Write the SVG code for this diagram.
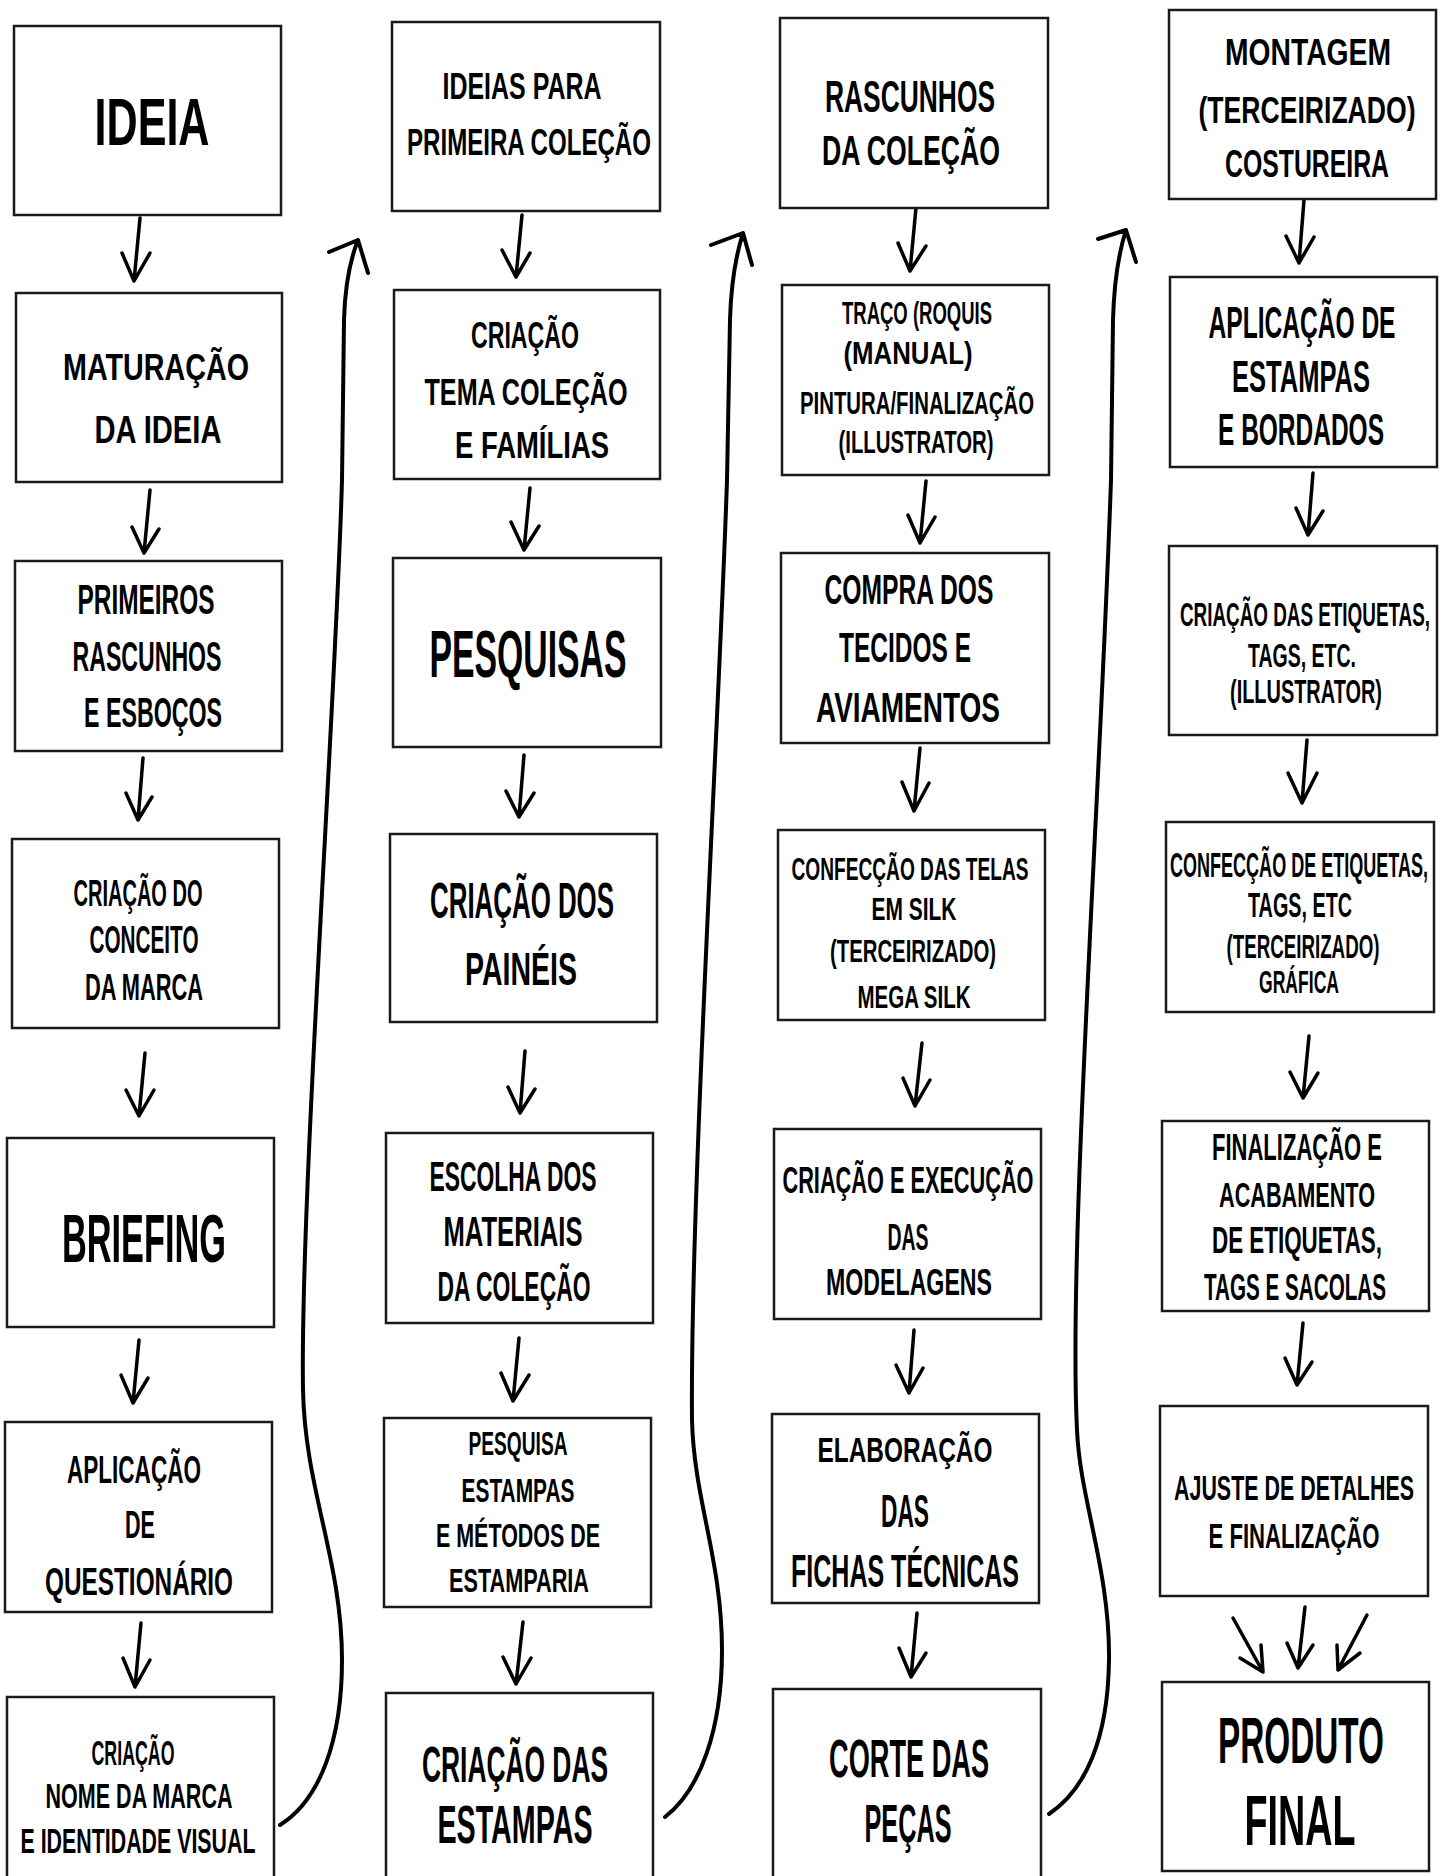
<svg xmlns="http://www.w3.org/2000/svg" width="1448" height="1876" viewBox="0 0 1448 1876">
<style>
.box{fill:#fff;stroke:#1a1a1a;stroke-width:2.5}
.t{font-family:"Liberation Sans",Arial,sans-serif;font-weight:bold;text-anchor:middle;fill:#000}
.a{fill:none;stroke:#000;stroke-width:3.5;stroke-linecap:round;stroke-linejoin:round}
.k{fill:none;stroke:#000;stroke-width:4;stroke-linecap:round;stroke-linejoin:round}
</style>
<rect x="0" y="0" width="1448" height="1876" fill="#fff"/>
<g id="connectors">
<path class="a" d="M140,218 L134,281 M122,253 L134,281 L150,253"/>
<path class="a" d="M150,490 L144,553 M132,527 L144,553 L159,529"/>
<path class="a" d="M143,758 L138,820 M126,793 L138,820 L152,797"/>
<path class="a" d="M145,1053 L139,1116 M126,1090 L139,1116 L154,1090"/>
<path class="a" d="M139,1340 L133,1403 M121,1375 L133,1403 L148,1378"/>
<path class="a" d="M141,1623 L135,1687 M123,1658 L135,1687 L150,1660"/>
<path class="a" d="M522,215 L516,277 M502,250 L516,277 L530,253"/>
<path class="a" d="M530,488 L524,550 M511,522 L524,550 L539,526"/>
<path class="a" d="M524,755 L519,817 M506,791 L519,817 L534,793"/>
<path class="a" d="M525,1051 L520,1113 M508,1087 L520,1113 L535,1089"/>
<path class="a" d="M519,1338 L513,1401 M501,1373 L513,1401 L529,1375"/>
<path class="a" d="M523,1622 L516,1684 M503,1657 L516,1684 L531,1658"/>
<path class="a" d="M916,208 L910,271 M898,243 L910,271 L926,246"/>
<path class="a" d="M926,481 L920,543 M908,515 L920,543 L935,517"/>
<path class="a" d="M920,748 L914,811 M902,782 L914,811 L929,783"/>
<path class="a" d="M922,1043 L915,1106 M903,1078 L915,1106 L930,1080"/>
<path class="a" d="M914,1330 L909,1393 M896,1365 L909,1393 L923,1368"/>
<path class="a" d="M917,1613 L911,1677 M899,1648 L911,1677 L926,1653"/>
<path class="a" d="M1304,200 L1299,263 M1286,236 L1299,263 L1314,237"/>
<path class="a" d="M1313,473 L1308,535 M1296,508 L1308,535 L1323,511"/>
<path class="a" d="M1307,740 L1302,803 M1288,773 L1302,803 L1317,773"/>
<path class="a" d="M1309,1036 L1303,1098 M1290,1072 L1303,1098 L1318,1073"/>
<path class="a" d="M1303,1323 L1297,1385 M1285,1358 L1297,1385 L1312,1362"/>
<path class="a" d="M1233,1618 L1263,1672 M1240,1658 L1263,1672 L1261,1645"/>
<path class="a" d="M1305,1607 L1298,1668 M1287,1643 L1298,1668 L1313,1645"/>
<path class="a" d="M1367,1615 L1338,1670 M1337,1645 L1338,1670 L1360,1653"/>
<path class="k" d="M280,1825 C320,1800 342,1740 342,1660 C342,1560 305,1490 303,1390 C300,1200 336,700 342,480 L344,320 C345,285 350,260 358,240 M329,252 L358,240 L368,273"/>
<path class="k" d="M665,1817 C700,1790 722,1730 722,1650 C722,1560 694,1500 692,1420 C690,1200 720,700 727,480 L730,320 C731,285 736,255 743,233 M711,245 L743,233 L752,265"/>
<path class="k" d="M1049,1814 C1085,1790 1108,1740 1109,1660 C1110,1570 1080,1500 1077,1430 C1068,1250 1100,800 1111,480 L1113,320 C1114,285 1118,255 1126,230 M1098,239 L1126,230 L1136,262"/>
</g>
<g id="n-ideia"><rect class="box" x="14" y="26" width="267" height="189"/>
<text class="t" font-size="43.1" transform="translate(152,145) scale(1,1.555)" textLength="115" lengthAdjust="spacingAndGlyphs">IDEIA</text></g>
<g id="n-maturacao"><rect class="box" x="16" y="293" width="266" height="189"/>
<text class="t" font-size="28.4" transform="translate(156,380) scale(1,1.33)" textLength="186" lengthAdjust="spacingAndGlyphs">MATURAÇÃO</text>
<text class="t" font-size="28.9" transform="translate(158,443) scale(1,1.35)" textLength="127" lengthAdjust="spacingAndGlyphs">DA IDEIA</text></g>
<g id="n-primeiros"><rect class="box" x="15" y="561" width="267" height="190"/>
<text class="t" font-size="24.4" transform="translate(146,614) scale(1,1.72)" textLength="137" lengthAdjust="spacingAndGlyphs">PRIMEIROS</text>
<text class="t" font-size="23.1" transform="translate(147,671) scale(1,1.81)" textLength="149" lengthAdjust="spacingAndGlyphs">RASCUNHOS</text>
<text class="t" font-size="23.2" transform="translate(153,727) scale(1,1.81)" textLength="138" lengthAdjust="spacingAndGlyphs">E ESBOÇOS</text></g>
<g id="n-conceito"><rect class="box" x="12" y="839" width="267" height="189"/>
<text class="t" font-size="20" transform="translate(138,906) scale(1,1.89)" textLength="129" lengthAdjust="spacingAndGlyphs">CRIAÇÃO DO</text>
<text class="t" font-size="20.7" transform="translate(144,953) scale(1,1.83)" textLength="109" lengthAdjust="spacingAndGlyphs">CONCEITO</text>
<text class="t" font-size="21.7" transform="translate(144,1000) scale(1,1.74)" textLength="118" lengthAdjust="spacingAndGlyphs">DA MARCA</text></g>
<g id="n-briefing"><rect class="box" x="7" y="1138" width="267" height="189"/>
<text class="t" font-size="34.3" transform="translate(144,1262) scale(1,2)" textLength="164" lengthAdjust="spacingAndGlyphs">BRIEFING</text></g>
<g id="n-questionario"><rect class="box" x="5" y="1422" width="267" height="190"/>
<text class="t" font-size="22.5" transform="translate(134,1483) scale(1,1.74)" textLength="134" lengthAdjust="spacingAndGlyphs">APLICAÇÃO</text>
<text class="t" font-size="21.6" transform="translate(140,1538) scale(1,1.81)" textLength="30" lengthAdjust="spacingAndGlyphs">DE</text>
<text class="t" font-size="23.7" transform="translate(139,1595) scale(1,1.65)" textLength="188" lengthAdjust="spacingAndGlyphs">QUESTIONÁRIO</text></g>
<g id="n-nome"><rect class="box" x="7" y="1697" width="267" height="200"/>
<text class="t" font-size="17.8" transform="translate(133,1765) scale(1,1.96)" textLength="83" lengthAdjust="spacingAndGlyphs">CRIAÇÃO</text>
<text class="t" font-size="21" transform="translate(139,1808) scale(1,1.66)" textLength="187" lengthAdjust="spacingAndGlyphs">NOME DA MARCA</text>
<text class="t" font-size="21.4" transform="translate(138,1853) scale(1,1.63)" textLength="235" lengthAdjust="spacingAndGlyphs">E IDENTIDADE VISUAL</text></g>
<g id="n-ideias-colecao"><rect class="box" x="392" y="22" width="268" height="189"/>
<text class="t" font-size="24.7" transform="translate(522,99) scale(1,1.47)" textLength="159" lengthAdjust="spacingAndGlyphs">IDEIAS PARA</text>
<text class="t" font-size="24" transform="translate(529,155) scale(1,1.57)" textLength="244" lengthAdjust="spacingAndGlyphs">PRIMEIRA COLEÇÃO</text></g>
<g id="n-tema"><rect class="box" x="394" y="290" width="266" height="189"/>
<text class="t" font-size="23.1" transform="translate(525,348) scale(1,1.63)" textLength="108" lengthAdjust="spacingAndGlyphs">CRIAÇÃO</text>
<text class="t" font-size="25" transform="translate(526,405) scale(1,1.51)" textLength="203" lengthAdjust="spacingAndGlyphs">TEMA COLEÇÃO</text>
<text class="t" font-size="27.2" transform="translate(532,458) scale(1,1.39)" textLength="154" lengthAdjust="spacingAndGlyphs">E FAMÍLIAS</text></g>
<g id="n-pesquisas"><rect class="box" x="393" y="558" width="268" height="189"/>
<text class="t" font-size="33.8" transform="translate(528,677) scale(1,1.98)" textLength="197" lengthAdjust="spacingAndGlyphs">PESQUISAS</text></g>
<g id="n-paineis"><rect class="box" x="390" y="834" width="267" height="188"/>
<text class="t" font-size="25.9" transform="translate(522,918) scale(1,1.94)" textLength="184" lengthAdjust="spacingAndGlyphs">CRIAÇÃO DOS</text>
<text class="t" font-size="28" transform="translate(521,985) scale(1,1.65)" textLength="112" lengthAdjust="spacingAndGlyphs">PAINÉIS</text></g>
<g id="n-materiais"><rect class="box" x="386" y="1133" width="267" height="190"/>
<text class="t" font-size="22.8" transform="translate(513,1191) scale(1,1.84)" textLength="167" lengthAdjust="spacingAndGlyphs">ESCOLHA DOS</text>
<text class="t" font-size="25.3" transform="translate(513,1246) scale(1,1.66)" textLength="139" lengthAdjust="spacingAndGlyphs">MATERIAIS</text>
<text class="t" font-size="22.8" transform="translate(514,1301) scale(1,1.84)" textLength="153" lengthAdjust="spacingAndGlyphs">DA COLEÇÃO</text></g>
<g id="n-pesquisa-estampas"><rect class="box" x="384" y="1418" width="267" height="189"/>
<text class="t" font-size="19.2" transform="translate(518,1455) scale(1,1.75)" textLength="99" lengthAdjust="spacingAndGlyphs">PESQUISA</text>
<text class="t" font-size="20.3" transform="translate(518,1502) scale(1,1.65)" textLength="113" lengthAdjust="spacingAndGlyphs">ESTAMPAS</text>
<text class="t" font-size="21.4" transform="translate(518,1547) scale(1,1.57)" textLength="164" lengthAdjust="spacingAndGlyphs">E MÉTODOS DE</text>
<text class="t" font-size="21.2" transform="translate(519,1592) scale(1,1.58)" textLength="140" lengthAdjust="spacingAndGlyphs">ESTAMPARIA</text></g>
<g id="n-criacao-estampas"><rect class="box" x="386" y="1693" width="267" height="200"/>
<text class="t" font-size="26.4" transform="translate(515,1782) scale(1,1.9)" textLength="186" lengthAdjust="spacingAndGlyphs">CRIAÇÃO DAS</text>
<text class="t" font-size="27.9" transform="translate(515,1843) scale(1,1.9)" textLength="155" lengthAdjust="spacingAndGlyphs">ESTAMPAS</text></g>
<g id="n-rascunhos-colecao"><rect class="box" x="780" y="18" width="268" height="190"/>
<text class="t" font-size="26.4" transform="translate(910,112) scale(1,1.69)" textLength="170" lengthAdjust="spacingAndGlyphs">RASCUNHOS</text>
<text class="t" font-size="26.5" transform="translate(911,165) scale(1,1.58)" textLength="178" lengthAdjust="spacingAndGlyphs">DA COLEÇÃO</text></g>
<g id="n-traco"><rect class="box" x="782" y="285" width="267" height="190"/>
<text class="t" font-size="18.5" transform="translate(917,324) scale(1,1.66)" textLength="150" lengthAdjust="spacingAndGlyphs">TRAÇO (ROQUIS</text>
<text class="t" font-size="25.8" transform="translate(908,364) scale(1,1.19)" textLength="129" lengthAdjust="spacingAndGlyphs">(MANUAL)</text>
<text class="t" font-size="20.35" transform="translate(917,414) scale(1,1.51)" textLength="234" lengthAdjust="spacingAndGlyphs">PINTURA/FINALIZAÇÃO</text>
<text class="t" font-size="20.1" transform="translate(916,453) scale(1,1.53)" textLength="155" lengthAdjust="spacingAndGlyphs">(ILLUSTRATOR)</text></g>
<g id="n-compra"><rect class="box" x="781" y="553" width="268" height="190"/>
<text class="t" font-size="24.5" transform="translate(909,604) scale(1,1.71)" textLength="169" lengthAdjust="spacingAndGlyphs">COMPRA DOS</text>
<text class="t" font-size="24.5" transform="translate(905,662) scale(1,1.71)" textLength="132" lengthAdjust="spacingAndGlyphs">TECIDOS E</text>
<text class="t" font-size="27.6" transform="translate(908,722) scale(1,1.52)" textLength="184" lengthAdjust="spacingAndGlyphs">AVIAMENTOS</text></g>
<g id="n-telas"><rect class="box" x="778" y="830" width="267" height="190"/>
<text class="t" font-size="19.1" transform="translate(910,880) scale(1,1.68)" textLength="237" lengthAdjust="spacingAndGlyphs">CONFECÇÃO DAS TELAS</text>
<text class="t" font-size="21" transform="translate(914,920) scale(1,1.53)" textLength="85" lengthAdjust="spacingAndGlyphs">EM SILK</text>
<text class="t" font-size="20.3" transform="translate(913,962) scale(1,1.58)" textLength="166" lengthAdjust="spacingAndGlyphs">(TERCEIRIZADO)</text>
<text class="t" font-size="20.3" transform="translate(914,1008) scale(1,1.58)" textLength="113" lengthAdjust="spacingAndGlyphs">MEGA SILK</text></g>
<g id="n-modelagens"><rect class="box" x="774" y="1129" width="267" height="190"/>
<text class="t" font-size="21.7" transform="translate(908,1193) scale(1,1.74)" textLength="251" lengthAdjust="spacingAndGlyphs">CRIAÇÃO E EXECUÇÃO</text>
<text class="t" font-size="19.4" transform="translate(908,1250) scale(1,1.94)" textLength="41" lengthAdjust="spacingAndGlyphs">DAS</text>
<text class="t" font-size="23.2" transform="translate(909,1295) scale(1,1.63)" textLength="166" lengthAdjust="spacingAndGlyphs">MODELAGENS</text></g>
<g id="n-fichas"><rect class="box" x="772" y="1414" width="267" height="189"/>
<text class="t" font-size="24.5" transform="translate(905,1462) scale(1,1.43)" textLength="175" lengthAdjust="spacingAndGlyphs">ELABORAÇÃO</text>
<text class="t" font-size="22.7" transform="translate(905,1527) scale(1,2.03)" textLength="48" lengthAdjust="spacingAndGlyphs">DAS</text>
<text class="t" font-size="25" transform="translate(905,1587) scale(1,1.84)" textLength="228" lengthAdjust="spacingAndGlyphs">FICHAS TÉCNICAS</text></g>
<g id="n-corte"><rect class="box" x="773" y="1689" width="268" height="200"/>
<text class="t" font-size="27.2" transform="translate(909,1777) scale(1,1.95)" textLength="160" lengthAdjust="spacingAndGlyphs">CORTE DAS</text>
<text class="t" font-size="25.3" transform="translate(908,1842) scale(1,2.1)" textLength="87" lengthAdjust="spacingAndGlyphs">PEÇAS</text></g>
<g id="n-montagem"><rect class="box" x="1169" y="10" width="267" height="189"/>
<text class="t" font-size="27.9" transform="translate(1308,65) scale(1,1.3)" textLength="166" lengthAdjust="spacingAndGlyphs">MONTAGEM</text>
<text class="t" font-size="26.6" transform="translate(1307,123) scale(1,1.42)" textLength="217" lengthAdjust="spacingAndGlyphs">(TERCEIRIZADO)</text>
<text class="t" font-size="24.8" transform="translate(1307,177) scale(1,1.58)" textLength="164" lengthAdjust="spacingAndGlyphs">COSTUREIRA</text></g>
<g id="n-aplicacao-estampas"><rect class="box" x="1170" y="277" width="267" height="190"/>
<text class="t" font-size="24.6" transform="translate(1302,338) scale(1,1.82)" textLength="187" lengthAdjust="spacingAndGlyphs">APLICAÇÃO DE</text>
<text class="t" font-size="24.8" transform="translate(1301,392) scale(1,1.8)" textLength="138" lengthAdjust="spacingAndGlyphs">ESTAMPAS</text>
<text class="t" font-size="24.5" transform="translate(1301,445) scale(1,1.82)" textLength="166" lengthAdjust="spacingAndGlyphs">E BORDADOS</text></g>
<g id="n-etiquetas"><rect class="box" x="1169" y="546" width="268" height="189"/>
<text class="t" font-size="18.75" transform="translate(1305,626) scale(1,1.79)" textLength="250" lengthAdjust="spacingAndGlyphs">CRIAÇÃO DAS ETIQUETAS,</text>
<text class="t" font-size="19.2" transform="translate(1302,667) scale(1,1.74)" textLength="108" lengthAdjust="spacingAndGlyphs">TAGS, ETC.</text>
<text class="t" font-size="19.7" transform="translate(1306,703) scale(1,1.7)" textLength="152" lengthAdjust="spacingAndGlyphs">(ILLUSTRATOR)</text></g>
<g id="n-confeccao-etiquetas"><rect class="box" x="1166" y="822" width="268" height="190"/>
<text class="t" font-size="17.9" transform="translate(1299,877) scale(1,1.95)" textLength="258" lengthAdjust="spacingAndGlyphs">CONFECÇÃO DE ETIQUETAS,</text>
<text class="t" font-size="19.5" transform="translate(1300,917) scale(1,1.79)" textLength="104" lengthAdjust="spacingAndGlyphs">TAGS, ETC</text>
<text class="t" font-size="18.7" transform="translate(1303,958) scale(1,1.79)" textLength="153" lengthAdjust="spacingAndGlyphs">(TERCEIRIZADO)</text>
<text class="t" font-size="17.6" transform="translate(1299,993) scale(1,1.83)" textLength="80" lengthAdjust="spacingAndGlyphs">GRÁFICA</text></g>
<g id="n-finalizacao"><rect class="box" x="1162" y="1121" width="267" height="190"/>
<text class="t" font-size="21.5" transform="translate(1297,1160) scale(1,1.69)" textLength="170" lengthAdjust="spacingAndGlyphs">FINALIZAÇÃO E</text>
<text class="t" font-size="21.6" transform="translate(1297,1207) scale(1,1.62)" textLength="156" lengthAdjust="spacingAndGlyphs">ACABAMENTO</text>
<text class="t" font-size="22.2" transform="translate(1297,1253) scale(1,1.64)" textLength="170" lengthAdjust="spacingAndGlyphs">DE ETIQUETAS,</text>
<text class="t" font-size="20.5" transform="translate(1295,1300) scale(1,1.84)" textLength="182" lengthAdjust="spacingAndGlyphs">TAGS E SACOLAS</text></g>
<g id="n-ajuste"><rect class="box" x="1160" y="1406" width="268" height="190"/>
<text class="t" font-size="21.3" transform="translate(1294,1500) scale(1,1.64)" textLength="240" lengthAdjust="spacingAndGlyphs">AJUSTE DE DETALHES</text>
<text class="t" font-size="21.6" transform="translate(1294,1548) scale(1,1.62)" textLength="171" lengthAdjust="spacingAndGlyphs">E FINALIZAÇÃO</text></g>
<g id="n-produto"><rect class="box" x="1162" y="1682" width="267" height="189"/>
<text class="t" font-size="33.2" transform="translate(1301,1763) scale(1,1.935)" textLength="166" lengthAdjust="spacingAndGlyphs">PRODUTO</text>
<text class="t" font-size="37.7" transform="translate(1300,1845) scale(1,1.85)" textLength="111" lengthAdjust="spacingAndGlyphs">FINAL</text></g>
</svg>
